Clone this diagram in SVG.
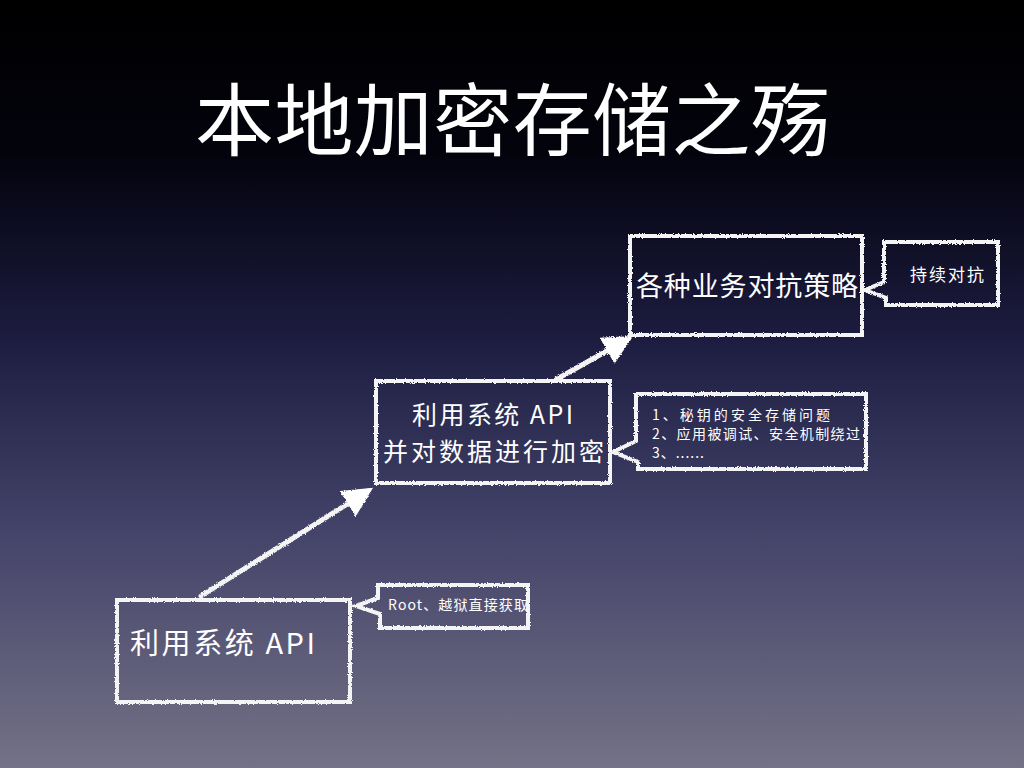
<svg xmlns="http://www.w3.org/2000/svg" width="1024" height="768" viewBox="0 0 1024 768">
<defs>
<linearGradient id="bg" x1="0" y1="0" x2="0" y2="1">
<stop offset="0" stop-color="#000000"/>
<stop offset="0.2" stop-color="#03030d"/>
<stop offset="0.45" stop-color="#1e1d42"/>
<stop offset="0.7" stop-color="#45446a"/>
<stop offset="1" stop-color="#747286"/>
</linearGradient>
<filter id="chalk" x="-5%" y="-5%" width="110%" height="110%">
<feTurbulence type="fractalNoise" baseFrequency="0.9" numOctaves="2" seed="3" result="n"/>
<feDisplacementMap in="SourceGraphic" in2="n" scale="3" xChannelSelector="R" yChannelSelector="G"/>
</filter>
<marker id="ah" viewBox="0 0 10 10" refX="8" refY="5" markerWidth="6" markerHeight="6" orient="auto" markerUnits="strokeWidth">
<path d="M0,0 L10,5 L0,10 z" fill="#ffffff"/>
</marker>
<style>
.box{fill:none;stroke:#f4f4f4;stroke-width:4;stroke-linejoin:miter}
.conn{fill:none;stroke:#f4f4f4;stroke-width:5;stroke-linecap:round}
.t{fill:#ffffff;font-family:"Noto Sans CJK SC","Noto Sans",sans-serif}
</style>
</defs>
<rect width="1024" height="768" fill="url(#bg)"/>
<text class="t" x="195" y="150" font-size="79" textLength="635" lengthAdjust="spacing">本地加密存储之殇</text>
<g id="connectors" filter="url(#chalk)">
<line class="conn" x1="201" y1="596" x2="368" y2="491" marker-end="url(#ah)"/>
<line class="conn" x1="557" y1="379" x2="628" y2="339" marker-end="url(#ah)"/>
</g>
<g id="node-api" filter="url(#chalk)">
<rect class="box" x="117" y="600" width="233" height="102"/>
</g>
<text class="t" x="130" y="654" font-size="29" textLength="185" lengthAdjust="spacing">利用系统 API</text>
<g id="note-root" filter="url(#chalk)">
<path class="box" d="M378,585 H528 V628 H380 V614 L356,606 L378,598 Z"/>
</g>
<text class="t" x="388" y="610" font-size="14" textLength="140" lengthAdjust="spacing">Root、越狱直接获取</text>
<g id="node-encrypt" filter="url(#chalk)">
<rect class="box" x="376" y="381" width="234" height="102"/>
</g>
<text class="t" x="412" y="424" font-size="25" textLength="161" lengthAdjust="spacing">利用系统 API</text>
<text class="t" x="383" y="461" font-size="25" textLength="221" lengthAdjust="spacing">并对数据进行加密</text>
<g id="note-issues" filter="url(#chalk)">
<path class="box" d="M636,394 H866 V469 H638 V462 L613,452 L636,441 Z"/>
</g>
<text class="t" x="652" y="420" font-size="14" textLength="178" lengthAdjust="spacing">1、秘钥的安全存储问题</text>
<text class="t" x="652" y="439" font-size="14" textLength="208" lengthAdjust="spacing">2、应用被调试、安全机制绕过</text>
<text class="t" x="652" y="458" font-size="14" textLength="52" lengthAdjust="spacing">3、......</text>
<g id="node-strategy" filter="url(#chalk)">
<rect class="box" x="630" y="236" width="232" height="99"/>
</g>
<text class="t" x="636" y="296" font-size="27" textLength="222" lengthAdjust="spacing">各种业务对抗策略</text>
<g id="note-continue" filter="url(#chalk)">
<path class="box" d="M884,242 H998 V305 H886 V298 L865,290 L884,282 Z"/>
</g>
<text class="t" x="910" y="281" font-size="17" textLength="74" lengthAdjust="spacing">持续对抗</text>
</svg>
